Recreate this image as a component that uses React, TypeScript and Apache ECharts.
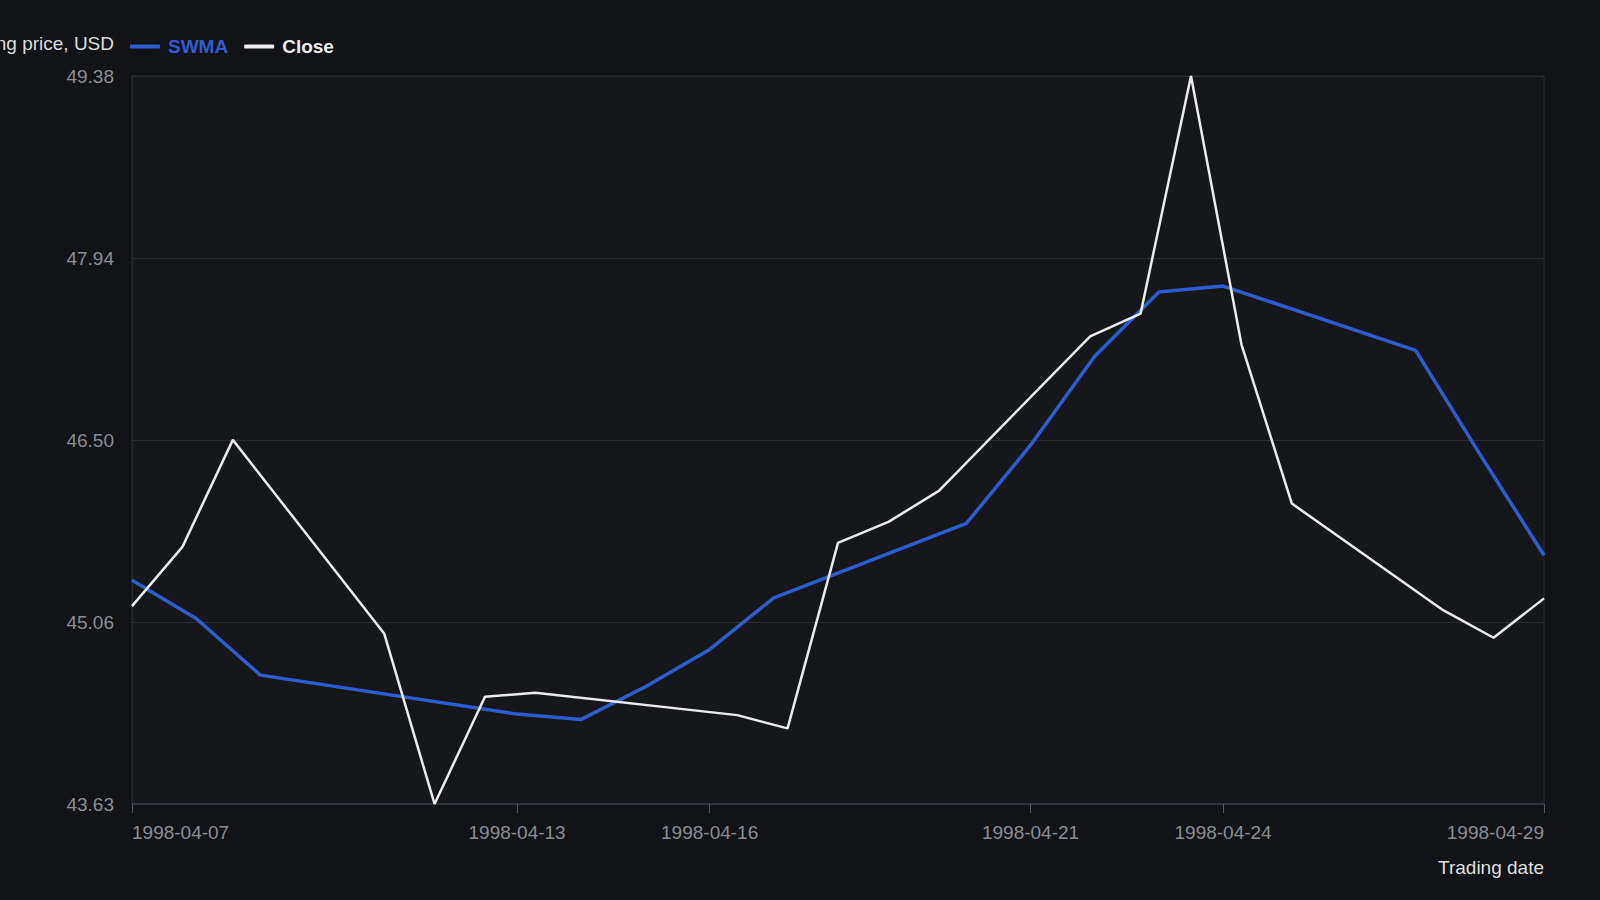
import React, { useEffect, useRef } from 'react';
import * as echarts from 'echarts';

const swmaDates = [
    '1998-04-07', '1998-04-08', '1998-04-09', '1998-04-13', '1998-04-14', '1998-04-15',
    '1998-04-16', '1998-04-17', '1998-04-20', '1998-04-21', '1998-04-22', '1998-04-23',
    '1998-04-24', '1998-04-27', '1998-04-28', '1998-04-29',
];
const swmaValues = [
    45.394, 45.091, 44.644, 44.336, 44.294, 44.552,
    44.847, 45.254, 45.842, 46.46, 47.162, 47.67,
    47.717, 47.209, 46.389, 45.591,
];

const closeDates = [
    '1998-04-01', '1998-04-02', '1998-04-03', '1998-04-06', '1998-04-07', '1998-04-08',
    '1998-04-09', '1998-04-13', '1998-04-14', '1998-04-15', '1998-04-16', '1998-04-17',
    '1998-04-20', '1998-04-21', '1998-04-22', '1998-04-23', '1998-04-24', '1998-04-27',
    '1998-04-28', '1998-04-29',
];
const closeValues = [
    45.189, 45.657, 46.502, 44.973, 43.626, 44.473,
    44.505, 44.328, 44.223, 45.688, 45.854, 46.099,
    47.32, 47.499, 49.376, 47.257, 45.999, 45.157,
    44.939, 45.25,
];

const tickDates = ['1998-04-07', '1998-04-13', '1998-04-16', '1998-04-21', '1998-04-24', '1998-04-29'];

const BLUE = '#2e5dd3';
const WHITE = '#ebebeb';
const FONT = 'Liberation Sans';

// dates as UTC day timestamps, shown back as yyyy-mm-dd
function toTime(d: string) {
    const [y, m, day] = d.split('-').map(Number);
    return Date.UTC(y, m - 1, day);
}
function fmtDate(v: number) {
    return new Date(v).toISOString().slice(0, 10);
}

export default function App() {
    const chartRef = useRef<HTMLDivElement>(null);

    useEffect(() => {
        document.body.style.margin = '0';
        if (!chartRef.current) return;
        const chart = echarts.init(chartRef.current, null, { renderer: 'svg' });

        const yMin = Math.min(...closeValues);
        const yMax = Math.max(...closeValues);
        const ticks = tickDates.map(toTime);

        chart.setOption({
            animation: false,
            backgroundColor: '#121317',
            textStyle: { fontFamily: FONT },
            legend: {
                left: 125,
                top: 32,
                icon: 'roundRect',
                itemWidth: 30,
                itemHeight: 4,
                itemGap: 16,
                textStyle: { fontSize: 19, fontWeight: 'bold', fontFamily: FONT, padding: [0, 0, 0, 3] },
                data: [
                    { name: 'SWMA', textStyle: { color: BLUE } },
                    { name: 'Close', textStyle: { color: WHITE } },
                ],
            },
            grid: {
                left: 132,
                right: 56,
                top: 76,
                bottom: 96,
                containLabel: false,
                outerBoundsMode: 'none',
                show: true,
                backgroundColor: '#16171b',
                borderColor: '#2a2c31',
                borderWidth: 1,
            },
            xAxis: [
                {
                    type: 'value',
                    min: toTime(swmaDates[0]),
                    max: toTime(swmaDates[swmaDates.length - 1]),
                    name: 'Trading date',
                    nameLocation: 'end',
                    nameGap: 0,
                    nameTextStyle: {
                        align: 'right',
                        verticalAlign: 'top',
                        padding: [54, 0, 0, 0],
                        color: '#dedede',
                        fontSize: 19,
                        fontFamily: FONT,
                    },
                    axisLine: { show: true, lineStyle: { color: '#34363c', width: 1.5 } },
                    axisTick: { show: true, length: 9, customValues: ticks, lineStyle: { color: '#55585e' } },
                    splitLine: { show: false },
                    axisLabel: {
                        customValues: ticks,
                        formatter: (v: number) => fmtDate(v),
                        color: '#8a8d93',
                        fontSize: 19,
                        fontFamily: FONT,
                        margin: 19,
                        alignMinLabel: 'left',
                        alignMaxLabel: 'right',
                        showMinLabel: true,
                        showMaxLabel: true,
                    },
                },
                {
                    type: 'value',
                    min: toTime(closeDates[0]),
                    max: toTime(closeDates[closeDates.length - 1]),
                    show: false,
                },
            ],
            yAxis: {
                type: 'value',
                min: yMin,
                max: yMax,
                interval: (yMax - yMin) / 4,
                name: 'Closing price, USD',
                nameLocation: 'end',
                nameGap: 33,
                nameTextStyle: {
                    align: 'right',
                    verticalAlign: 'middle',
                    padding: [0, 18, 0, 0],
                    color: '#dcdcdc',
                    fontSize: 19,
                    fontFamily: FONT,
                },
                axisLine: { show: true, lineStyle: { color: '#2a2c31' } },
                axisTick: { show: false },
                splitLine: { show: true, lineStyle: { color: '#2a2c31' } },
                axisLabel: {
                    formatter: (v: number) => v.toFixed(2),
                    color: '#8a8d93',
                    fontSize: 19,
                    fontFamily: FONT,
                    margin: 18,
                },
            },
            series: [
                {
                    name: 'SWMA',
                    type: 'line',
                    xAxisIndex: 0,
                    data: swmaDates.map((d, i) => [toTime(d), swmaValues[i]]),
                    showSymbol: false,
                    color: BLUE,
                    lineStyle: { width: 3.5, color: BLUE },
                },
                {
                    name: 'Close',
                    type: 'line',
                    xAxisIndex: 1,
                    data: closeDates.map((d, i) => [toTime(d), closeValues[i]]),
                    showSymbol: false,
                    color: WHITE,
                    lineStyle: { width: 2.5, color: WHITE },
                },
            ],
        });

        return () => {
            chart.dispose();
        };
    }, []);

    return (
        <div
            ref={chartRef}
            style={{ position: 'fixed', left: 0, top: 0, width: 1600, height: 900, background: '#121317' }}
        />
    );
}
